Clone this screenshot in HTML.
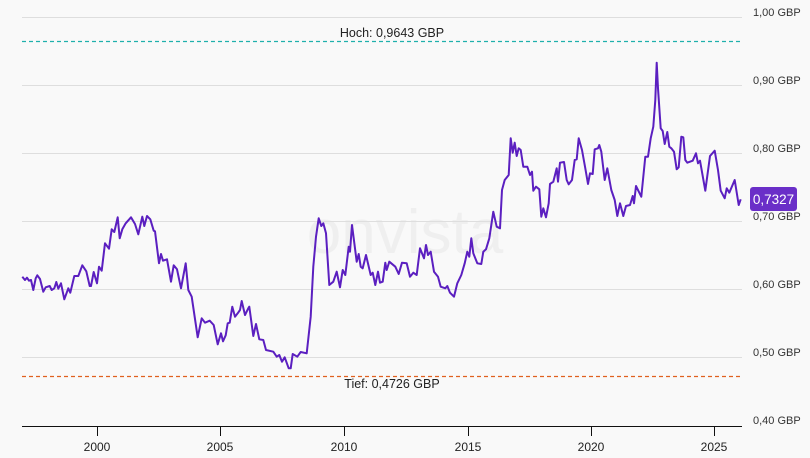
<!DOCTYPE html>
<html><head><meta charset="utf-8"><style>
html,body{margin:0;padding:0;background:#f9f9f9;}
svg{display:block;font-family:"Liberation Sans",sans-serif;}
</style></head><body>
<svg width="810" height="458" viewBox="0 0 810 458" xmlns="http://www.w3.org/2000/svg">
<rect width="810" height="458" fill="#f9f9f9"/>
<text x="405" y="253" font-size="62" fill="#efefef" text-anchor="middle" font-family="Liberation Sans, sans-serif">onvista</text>
<g stroke="#dedede" stroke-width="1">
<line x1="22" y1="17.5" x2="742" y2="17.5"/>
<line x1="22" y1="85.5" x2="742" y2="85.5"/>
<line x1="22" y1="153.5" x2="742" y2="153.5"/>
<line x1="22" y1="221.5" x2="742" y2="221.5"/>
<line x1="22" y1="289.5" x2="742" y2="289.5"/>
<line x1="22" y1="357.5" x2="742" y2="357.5"/>
</g>
<g font-size="11" fill="#333">
<text x="753" y="16">1,00 GBP</text>
<text x="753" y="84">0,90 GBP</text>
<text x="753" y="152">0,80 GBP</text>
<text x="753" y="220">0,70 GBP</text>
<text x="753" y="288">0,60 GBP</text>
<text x="753" y="356">0,50 GBP</text>
<text x="753" y="424">0,40 GBP</text>
</g>
<line x1="22" y1="41.5" x2="742" y2="41.5" stroke="#1fb0ac" stroke-width="1.2" stroke-dasharray="4,3"/>
<line x1="22" y1="376.5" x2="742" y2="376.5" stroke="#e0601f" stroke-width="1.2" stroke-dasharray="4,3"/>
<text x="392" y="37" font-size="12.5" fill="#222" text-anchor="middle">Hoch: 0,9643 GBP</text>
<text x="392" y="388" font-size="12.5" fill="#222" text-anchor="middle">Tief: 0,4726 GBP</text>
<line x1="22" y1="426.5" x2="742" y2="426.5" stroke="#111" stroke-width="1"/>
<g stroke="#111" stroke-width="1">
<line x1="97.5" y1="426" x2="97.5" y2="436"/>
<line x1="220.5" y1="426" x2="220.5" y2="436"/>
<line x1="344.5" y1="426" x2="344.5" y2="436"/>
<line x1="468.5" y1="426" x2="468.5" y2="436"/>
<line x1="591.5" y1="426" x2="591.5" y2="436"/>
<line x1="714.5" y1="426" x2="714.5" y2="436"/>
</g>
<g font-size="12" fill="#222" text-anchor="middle">
<text x="97" y="451">2000</text>
<text x="220" y="451">2005</text>
<text x="344" y="451">2010</text>
<text x="468" y="451">2015</text>
<text x="591" y="451">2020</text>
<text x="714" y="451">2025</text>
</g>
<polyline fill="none" stroke="#5b1fc0" stroke-width="2" stroke-linejoin="round" points="
22.3,276.7 25,280 27,277.7 29,280.7 31,280 33.3,290 35.7,278.3 37.3,275.3 40,279 43.3,291.7 45.7,287.3 49.7,286 51.7,290 54.3,288.3 56.3,282 58.3,288.7 61,283.3 64.3,299.3 68.3,288.3 70.3,292.7 74.3,276 78.3,276 82.3,265.3 86.3,271.3 89.7,286 91,286 93.7,272 97,283.3 99,266.7 101.7,270.7 105,243.3 109,248.7 111.7,229.3 114.3,232 117.7,217.3 119.7,238.3 122.3,229.3 125.7,223.3 131,217.3 135,224 138.3,234.3 142.3,216.7 144.3,226 147,216 150.3,219.3 153.7,230.7 155,231.3 159,263.3 161,254 163,260.7 167,259.3 171,281.7 173.7,265.3 177,269.3 181,288.3 185.7,263.3 188.3,290 191.7,296.7 197.7,337.3 201.7,318.3 205,322.7 209.7,320.7 213.7,325 217.7,344.3 221,333.3 223,341.3 225.7,335.3 227.7,323.3 229.7,322.7 232.3,306.7 235,316.7 237.7,313.3 240,310 241.7,301 245,315 248.3,308.3 249.3,306.7 253.3,336 256,324 259.3,339.3 263.3,340 266,350 273.3,351.7 276.7,356.7 279.3,355 282,361.7 284.7,357.3 288.7,368.3 290.7,368.3 292.7,354 297.3,356.7 300.7,352 306.7,353.3 310.7,316.7 313.3,266.7 316,236.7 318.7,218.3 321.3,226 323.3,223.3 326,233.3 329.3,285 333.3,281.7 336.7,271.7 340,287.3 342.7,270 345.3,275 348.7,246.7 350,251.7 352,225 356.7,261.7 358.7,254 360.7,266.7 362.7,268.3 366,255 370.7,275 372.7,272.7 375.3,285 378,271.7 380,282.7 382.7,281.7 385.3,262.7 386.7,270 389.3,261.7 395.3,266.7 398.7,274 402,262.7 406.7,263.3 410,276.7 413.3,272.7 416.7,275 420,248.3 424,258.3 426,245 428,255 430.7,251.7 434,271.7 438,276.7 440.7,286.7 445.3,288.3 447.3,286 450,292.7 454,296.7 457.3,283.3 461.3,275 464.7,263.3 467.3,251.7 469.3,256.7 471.3,238.3 473.3,253.3 477.3,263.3 481.3,264 483.3,251.7 486,249.3 489.3,238.3 493.3,211.7 496.7,226.7 500,228.3 502,190 504.7,180 508.7,175 510.7,138.3 512.7,152.7 514.7,142.7 516.7,156 518.7,148.3 520.7,150 523.3,166.7 527.3,166.7 530,175 532,171.7 533.3,190.7 536,186.7 539.3,189.3 541.3,216.7 543.3,208.3 546,217.3 548.7,203.3 550,184 553.3,181.7 556.7,168.3 558,181.7 560,162.7 564,162 566.7,180 568.7,184.3 572,180 574.7,160 576.7,159.3 578.7,138.3 582,150 585.3,168.3 588,184 590,173.3 592.7,174 594.7,149.3 598,148.3 599.3,145 601.3,151.7 604.7,180 607.3,168.3 611.3,190 614.7,200 617.3,216 620,203.3 623.3,216 626,206 630,205 632.7,196 634,203.3 636,186 641.3,196.7 645.3,156.7 648,156.7 650.7,138.3 653.3,126.7 655.3,100 656.7,62.7 658,88.3 660.7,128.3 662.7,131 664.7,144 667.3,132 669.3,146.7 671.3,148.3 674,151.7 676.7,169.3 678.7,167.3 681.3,136.7 683.3,137.3 685.3,160 687.3,162.7 692.7,160.7 696,153.3 698,163.3 700,160.7 705.3,190.7 710,156 714.7,150.7 718,170 720.7,190.7 724.7,198.3 726.7,188.3 729.3,192.7 734.7,180 738.7,205 740.7,199.3"/>
<rect x="750" y="187" width="47" height="24" rx="3" fill="#6a2fc8"/>
<text x="773.5" y="204" font-size="13.5" fill="#ffffff" text-anchor="middle">0,7327</text>
</svg>
</body></html>
